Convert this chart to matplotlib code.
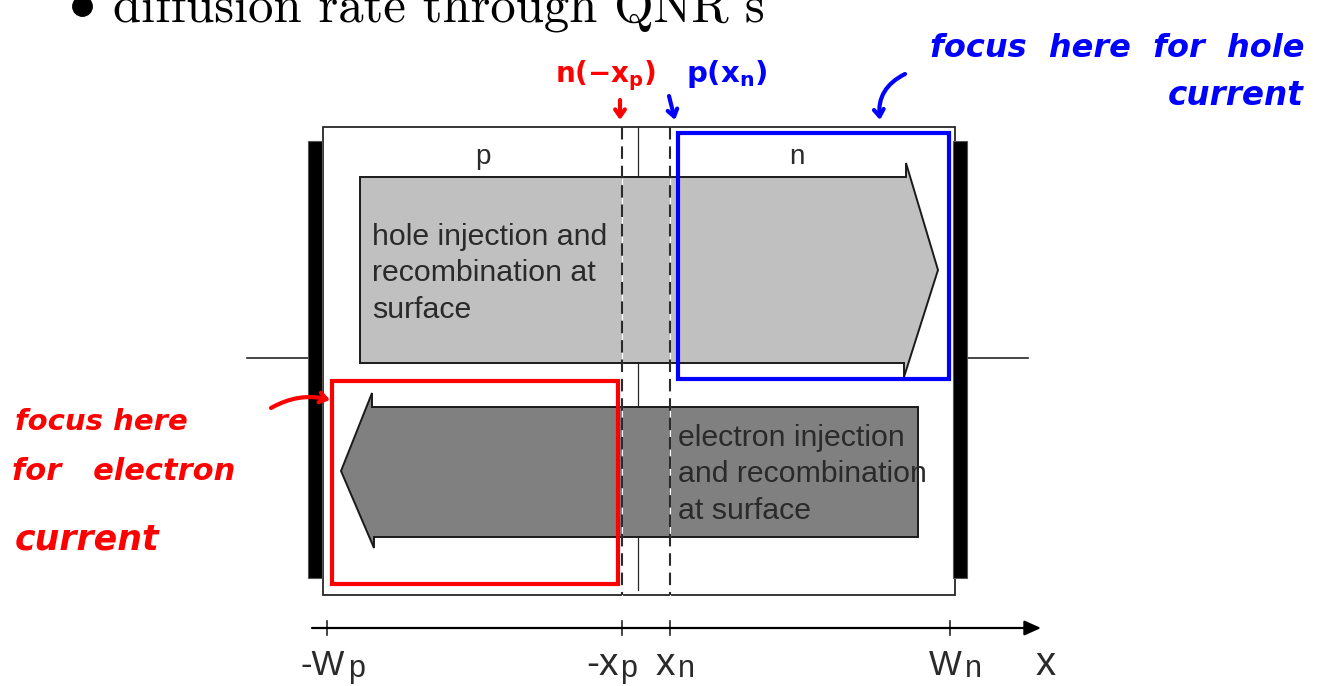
import matplotlib
matplotlib.use("Agg")
import matplotlib.pyplot as plt
from matplotlib.patches import Rectangle, Polygon

plt.rcParams['mathtext.fontset'] = 'custom'
plt.rcParams['mathtext.rm'] = 'Liberation Sans'
plt.rcParams['mathtext.it'] = 'Liberation Sans:italic'
plt.rcParams['mathtext.bf'] = 'DejaVu Sans:bold'

# diagram geometry, in picture units (x right, y down)
box = [323, 127, 955, 595]            # device outline: x0, y0, x1, y1
contacts = [[308, 322], [953, 967]]    # black contact bars, x ranges
contact_y = [141, 578]
wire_y = 358
wires = [[247, 308], [967, 1028]]
junction_x = 638
dash_x = [622, 670]                    # -xp, xn

hole_arrow = [(360, 177), (906, 177), (906, 163), (938, 270), (904, 377), (904, 363), (360, 363)]
elec_arrow = [(918, 407), (372, 407), (372, 393), (341, 471), (374, 548), (374, 537), (918, 537)]

region_labels = ["p", "n"]
region_label_x = [483, 797]
hole_text = ["hole injection and", "recombination at", "surface"]
hole_text_base = [245, 281, 318]
elec_text = ["electron injection", "and recombination", "at surface"]
elec_text_base = [446, 482, 519]

axis_y = 628
axis_x = [312, 1041]
tick_x = [327, 622, 670, 950]
tick_main = ["-W", "-x", "x", "W"]
tick_main_size = [25, 28, 28, 25]
tick_sub = ["p", "p", "n", "n"]
tick_main_x = [300, 586, 656, 929]
tick_sub_x = [348, 620, 678, 965]
axis_name = "x"

blue_box = [678, 133, 949, 379]
red_box = [332, 381, 618, 584]

fig = plt.figure(figsize=(13.23, 6.86), dpi=100)
ax = fig.add_axes([0, 0, 1, 1])
ax.set_xlim(0, 1323)
ax.set_ylim(686, 0)
ax.axis("off")

dark = "#262626"
txt = "#2a2a2a"

# heading, cut off at the top as in the slide
ax.plot([82], [6], marker="o", ms=14, color="black", clip_on=False)
ax.text(113, 21, "diffusion rate through QNR\u2019s", fontsize=36.5,
        family=["cmr10", "DejaVu Serif"], va="baseline", color="black")

# device outline and contacts
ax.add_patch(Rectangle((box[0], box[1]), box[2] - box[0], box[3] - box[1],
                       fill=False, ec=dark, lw=1.3, zorder=1))
for cx in contacts:
    ax.add_patch(Rectangle((cx[0], contact_y[0]), cx[1] - cx[0], contact_y[1] - contact_y[0],
                           fc="black", ec="#555555", lw=0.8, zorder=2))
for wx in wires:
    ax.plot(wx, [wire_y, wire_y], color=dark, lw=1.2, zorder=1)

# metallurgical junction
ax.plot([junction_x, junction_x], [box[1], box[3] - 5], color=dark, lw=0.9, zorder=1)

# current arrows
ax.add_patch(Polygon(hole_arrow, closed=True, fc="#c0c0c0", ec="#1a1a1a", lw=1.4, zorder=3))
ax.add_patch(Polygon(elec_arrow, closed=True, fc="#808080", ec="#1a1a1a", lw=1.4, zorder=3))

# depletion edges
for dx in dash_x:
    ax.plot([dx, dx], [box[1], box[3]], color="white", lw=0.8, zorder=4)
    ax.plot([dx, dx], [box[1], box[3]], color="#2a2a2a", lw=1.5, dashes=(6, 3.3), zorder=5)

for lab, lx in zip(region_labels, region_label_x):
    ax.text(lx, 157, lab, fontsize=20, family="Liberation Sans", ha="center", va="center",
            color=txt, zorder=6)
for line, yb in zip(hole_text, hole_text_base):
    ax.text(372, yb, line, fontsize=21.8, family="Liberation Sans", va="baseline",
            color=txt, zorder=6)
for line, yb in zip(elec_text, elec_text_base):
    ax.text(678, yb, line, fontsize=21.8, family="Liberation Sans", va="baseline",
            color=txt, zorder=6)

# x axis
ax.annotate("", xy=(axis_x[1], axis_y), xytext=(axis_x[0], axis_y),
            arrowprops=dict(arrowstyle="-|>,head_length=1.0,head_width=0.45",
                            color="black", lw=1.6, shrinkA=0, shrinkB=0))
for tx in tick_x:
    ax.plot([tx, tx], [axis_y - 7, axis_y + 7], color=dark, lw=1.2)
for lab, lx, fs in zip(tick_main, tick_main_x, tick_main_size):
    ax.text(lx, 675, lab, fontsize=fs, family="Liberation Sans", va="baseline", color=txt)
for lab, lx in zip(tick_sub, tick_sub_x):
    ax.text(lx, 677, lab, fontsize=22, family="Liberation Sans", va="baseline", color=txt)
ax.text(1036, 675, axis_name, fontsize=29, family="Liberation Sans", va="baseline", color=txt)

# hand annotations
blue = "#0000ff"
red = "#ff0000"
hand = dict(family="DejaVu Sans", weight="bold", style="italic")

ax.add_patch(Rectangle((blue_box[0], blue_box[1]), blue_box[2] - blue_box[0],
                       blue_box[3] - blue_box[1], fill=False, ec=blue, lw=3, zorder=8))
ax.add_patch(Rectangle((red_box[0], red_box[1]), red_box[2] - red_box[0],
                       red_box[3] - red_box[1], fill=False, ec=red, lw=3, zorder=8))

ax.text(930, 57, "focus  here  for  hole", fontsize=23, color=blue, va="baseline", **hand)
ax.text(1168, 105, "current", fontsize=23.5, color=blue, va="baseline", **hand)
ax.text(686, 82, r"$\mathbf{p(x_n)}$", fontsize=21, color=blue, va="baseline")
ax.text(555, 82, r"$\mathbf{n(-x_p)}$", fontsize=20, color=red, va="baseline")

ax.text(15, 430, "focus here", fontsize=21, color=red, va="baseline", **hand)
ax.text(12, 480, "for   electron", fontsize=22, color=red, va="baseline", **hand)
ax.text(15, 550, "current", fontsize=25, color=red, va="baseline", **hand)

arrow_kw = dict(arrowstyle="->,head_length=0.5,head_width=0.35", lw=3, shrinkA=0, shrinkB=0)
ax.annotate("", xy=(620, 120), xytext=(620, 100), arrowprops=dict(color=red, **arrow_kw), zorder=9)
ax.annotate("", xy=(675, 120), xytext=(669, 96), arrowprops=dict(color=blue, **arrow_kw), zorder=9)
ax.annotate("", xy=(880, 120), xytext=(905, 74),
            arrowprops=dict(color=blue, connectionstyle="arc3,rad=0.35", **arrow_kw), zorder=9)
ax.annotate("", xy=(330, 400), xytext=(271, 408),
            arrowprops=dict(color=red, connectionstyle="arc3,rad=-0.2", **arrow_kw), zorder=9)

fig.savefig("out.png", dpi=100)
